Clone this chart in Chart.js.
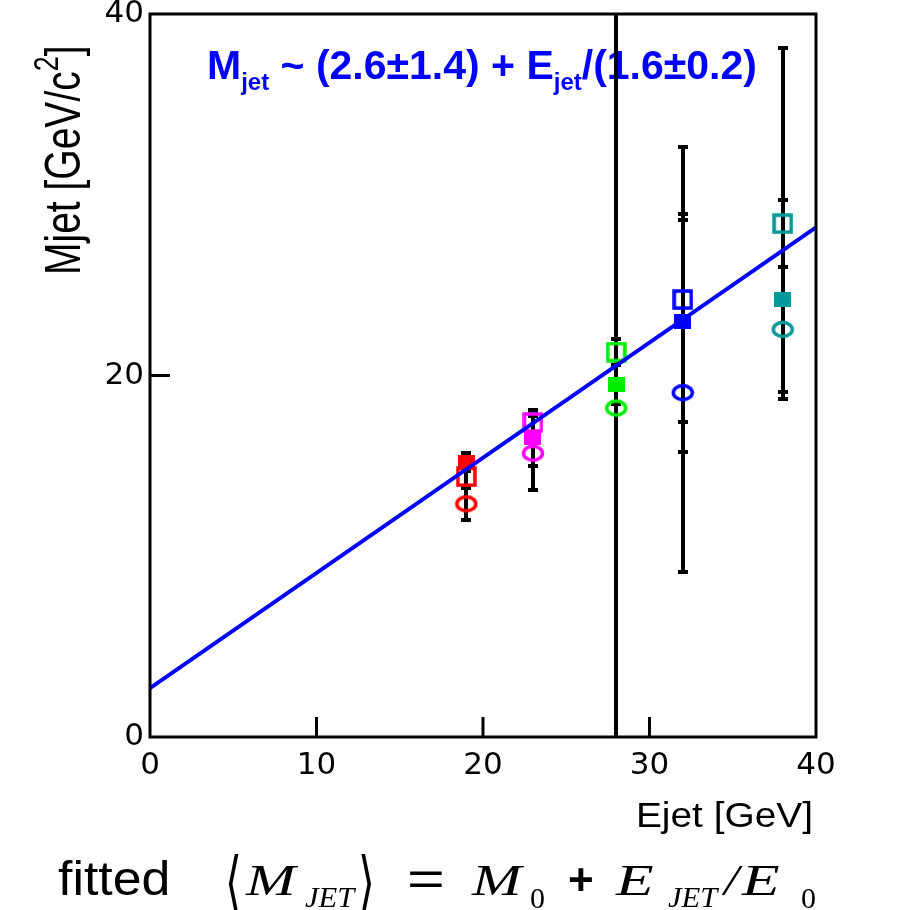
<!DOCTYPE html>
<html>
<head>
<meta charset="utf-8">
<title>Mjet vs Ejet</title>
<script src="https://cdn.jsdelivr.net/npm/chart.js@4.4.1/dist/chart.umd.min.js"></script>
<style>
    html, body { margin: 0; padding: 0; background: #ffffff; }
    #jetChart { display: block; }
</style>
</head>
<body>
<canvas id="jetChart" width="903" height="910"></canvas>
<script>
// Jet energy bins and their colours
const jetEnergies = [19, 23, 28, 32, 38];
const binColors = ['#ff0000', '#ff00ff', '#00ee00', '#0000ff', '#009999'];

// Mean jet mass for the three samples, with errors
const openSquareMass = [14.4, 17.4, 21.3, 24.2, 28.4];
const openSquareErr = [0.5, 0.55, 0.7, 8.45, 9.7];
const filledSquareMass = [15.2, 16.55, 19.5, 23.0, 24.2];
const filledSquareErr = [0.5, 1.55, 1.1, 5.6, 5.5];
const openCircleMass = [12.9, 15.7, 18.2, 19.05, 22.55];
const openCircleErr = [0.9, 2.05, 25, 9.9, 3.45];

// Straight line fit
const fitEnergy = [0, 40];
const fitMass = [2.7, 28.2];

const xTicks = [0, 10, 20, 30, 40];
const yTicks = [0, 20, 40];

function makeMarker(kind, color) {
    const c = document.createElement('canvas');
    const g = c.getContext('2d');
    if (kind === 'openSquare') {
        c.width = 21; c.height = 21;
        g.strokeStyle = color;
        g.lineWidth = 3.5;
        g.strokeRect(2, 2, 17, 17);
    } else if (kind === 'filledSquare') {
        c.width = 17; c.height = 15;
        g.fillStyle = color;
        g.fillRect(0, 0, 17, 15);
    } else {
        c.width = 24; c.height = 19;
        g.strokeStyle = color;
        g.lineWidth = 3.5;
        g.beginPath();
        g.ellipse(12, 9.5, 9.5, 7, 0, 0, Math.PI * 2);
        g.stroke();
    }
    return c;
}

function toPoints(xs, ys) {
    return xs.map((x, i) => ({ x: x, y: ys[i] }));
}

function markerDataset(kind, values) {
    const markers = binColors.map(col => makeMarker(kind, col));
    return {
        data: toPoints(jetEnergies, values),
        pointStyle: ctx => markers[ctx.dataIndex],
        pointRadius: 8,
        order: 1
    };
}

const samples = [
    { values: openSquareMass, errors: openSquareErr },
    { values: filledSquareMass, errors: filledSquareErr },
    { values: openCircleMass, errors: openCircleErr }
];

// text helper: draws a string with an optional stretch
function drawText(ctx, text, x, y, font, color, sx, sy) {
    ctx.save();
    ctx.translate(x, y);
    ctx.scale(sx || 1, sy || 1);
    ctx.font = font;
    ctx.fillStyle = color;
    ctx.textAlign = 'left';
    ctx.textBaseline = 'alphabetic';
    ctx.fillText(text, 0, 0);
    ctx.restore();
}

// runs of text drawn one after another (for sub/superscripts)
function drawRuns(ctx, runs, x, y, color) {
    ctx.save();
    ctx.fillStyle = color;
    ctx.textBaseline = 'alphabetic';
    ctx.textAlign = 'left';
    runs.forEach(r => {
        ctx.font = r.font;
        ctx.fillText(r.text, x, y + (r.dy || 0));
        x += ctx.measureText(r.text).width;
    });
    ctx.restore();
}

const fitLabelPlugin = {
    id: 'fitLabel',
    beforeDatasetsDraw(chart) {
        const big = 'bold 41px "Liberation Sans", Arial, sans-serif';
        const sub = 'bold 24px "Liberation Sans", Arial, sans-serif';
        drawRuns(chart.ctx, [
            { text: 'M', font: big },
            { text: 'jet', font: sub, dy: 11 },
            { text: ' ~ (2.6\u00b11.4) + E', font: big },
            { text: 'jet', font: sub, dy: 11 },
            { text: '/(1.6\u00b10.2)', font: big }
        ], 207, 79, '#0000ff');
    }
};

const errorBarPlugin = {
    id: 'errorBars',
    beforeDatasetsDraw(chart) {
        const { ctx, chartArea, scales } = chart;
        ctx.save();
        ctx.beginPath();
        ctx.rect(chartArea.left, chartArea.top, chartArea.right - chartArea.left, chartArea.bottom - chartArea.top);
        ctx.clip();
        ctx.strokeStyle = '#000000';
        ctx.lineWidth = 4;
        samples.forEach(s => {
            s.values.forEach((v, i) => {
                const px = Math.round(scales.x.getPixelForValue(jetEnergies[i]));
                const top = Math.round(scales.y.getPixelForValue(v + s.errors[i]));
                const bot = Math.round(scales.y.getPixelForValue(v - s.errors[i]));
                ctx.beginPath();
                ctx.moveTo(px, top);
                ctx.lineTo(px, bot);
                ctx.moveTo(px - 5, top);
                ctx.lineTo(px + 5, top);
                ctx.moveTo(px - 5, bot);
                ctx.lineTo(px + 5, bot);
                ctx.stroke();
            });
        });
        ctx.restore();
    }
};

// frame and inward tick marks
const framePlugin = {
    id: 'frame',
    afterDatasetsDraw(chart) {
        const { ctx, chartArea, scales } = chart;
        ctx.save();
        ctx.strokeStyle = '#000000';
        ctx.lineWidth = 3;
        ctx.strokeRect(chartArea.left, chartArea.top, chartArea.right - chartArea.left, chartArea.bottom - chartArea.top);
        ctx.beginPath();
        xTicks.slice(1, -1).forEach(t => {
            const px = scales.x.getPixelForValue(t);
            ctx.moveTo(px, chartArea.bottom);
            ctx.lineTo(px, chartArea.bottom - 20);
        });
        yTicks.slice(1, -1).forEach(t => {
            const py = scales.y.getPixelForValue(t);
            ctx.moveTo(chartArea.left, py);
            ctx.lineTo(chartArea.left + 20, py);
        });
        ctx.stroke();
        ctx.restore();
    }
};

const axisTextPlugin = {
    id: 'axisText',
    afterDraw(chart) {
        const ctx = chart.ctx;
        const sans = '"Liberation Sans", Arial, sans-serif';
        const serif = '"Liberation Serif", "Times New Roman", serif';
        const bracket = '48px "DejaVu Sans", sans-serif';

        // x axis title
        ctx.save();
        ctx.translate(813, 827);
        ctx.scale(1.11, 1);
        ctx.font = '35px ' + sans;
        ctx.fillStyle = '#000';
        ctx.textAlign = 'right';
        ctx.fillText('Ejet [GeV]', 0, 0);
        ctx.restore();

        // y axis title, rotated
        ctx.save();
        ctx.translate(80, 275);
        ctx.scale(1.3, 1);
        ctx.rotate(-Math.PI / 2);
        drawRuns(ctx, [
            { text: 'Mjet [GeV/c', font: '39px ' + sans },
            { text: '2', font: '27px ' + sans, dy: -17 },
            { text: ']', font: '39px ' + sans }
        ], 0, 0, '#000');
        ctx.restore();

        // fit formula under the plot
        const it = 'italic 44px ' + serif;
        const itSub = 'italic 30px ' + serif;
        drawText(ctx, 'fitted', 58, 895, '48px ' + sans, '#000', 1.08);
        drawText(ctx, '\u27e8', 225, 905, bracket, '#000', 0.9, 1.4);
        drawText(ctx, 'M', 246, 895, it, '#000', 1.35);
        drawText(ctx, 'JET', 305, 907, itSub, '#000', 1.02);
        drawText(ctx, '\u27e9', 358, 905, bracket, '#000', 0.9, 1.4);
        drawText(ctx, '=', 407, 895, '48px ' + sans, '#000', 1.35);
        drawText(ctx, 'M', 472, 895, it, '#000', 1.35);
        drawText(ctx, '0', 530, 908, '30px ' + serif, '#000', 1);
        drawText(ctx, '+', 568, 895, 'bold 44px ' + sans, '#000', 1);
        drawText(ctx, 'E', 616, 895, it, '#000', 1.4);
        drawText(ctx, 'JET', 668, 907, itSub, '#000', 1.02);
        drawText(ctx, '/', 724, 895, it, '#000', 1.2);
        drawText(ctx, 'E', 742, 895, it, '#000', 1.4);
        drawText(ctx, '0', 801, 908, '30px ' + serif, '#000', 1);
    }
};

const tickFont = { family: '"DejaVu Sans", sans-serif', size: 31 };

new Chart(document.getElementById('jetChart'), {
    type: 'scatter',
    data: {
        datasets: [
            {
                data: toPoints(fitEnergy, fitMass),
                showLine: true,
                borderColor: '#0000ff',
                borderWidth: 4,
                pointRadius: 0,
                order: 0
            },
            markerDataset('openSquare', openSquareMass),
            markerDataset('filledSquare', filledSquareMass),
            markerDataset('openCircle', openCircleMass)
        ]
    },
    options: {
        responsive: false,
        animation: false,
        events: [],
        layout: { padding: { top: 14, right: 87, left: 0, bottom: 0 } },
        plugins: {
            legend: { display: false },
            tooltip: { enabled: false }
        },
        scales: {
            x: {
                type: 'linear',
                min: 0,
                max: 40,
                afterBuildTicks: scale => { scale.ticks = xTicks.map(v => ({ value: v })); },
                afterFit: scale => {
                    scale.height = 173;
                    scale.paddingLeft = 0;
                    scale.paddingRight = 0;
                },
                grid: { display: false, drawTicks: false },
                border: { display: false },
                ticks: { color: '#000', font: tickFont, padding: 10, maxRotation: 0 }
            },
            y: {
                type: 'linear',
                min: 0,
                max: 40,
                afterBuildTicks: scale => { scale.ticks = yTicks.map(v => ({ value: v })); },
                afterFit: scale => {
                    scale.width = 150;
                    scale.paddingTop = 0;
                    scale.paddingBottom = 0;
                },
                grid: { display: false, drawTicks: false },
                border: { display: false },
                ticks: { color: '#000', font: tickFont, padding: 6 }
            }
        }
    },
    plugins: [fitLabelPlugin, errorBarPlugin, framePlugin, axisTextPlugin]
});
</script>
</body>
</html>
